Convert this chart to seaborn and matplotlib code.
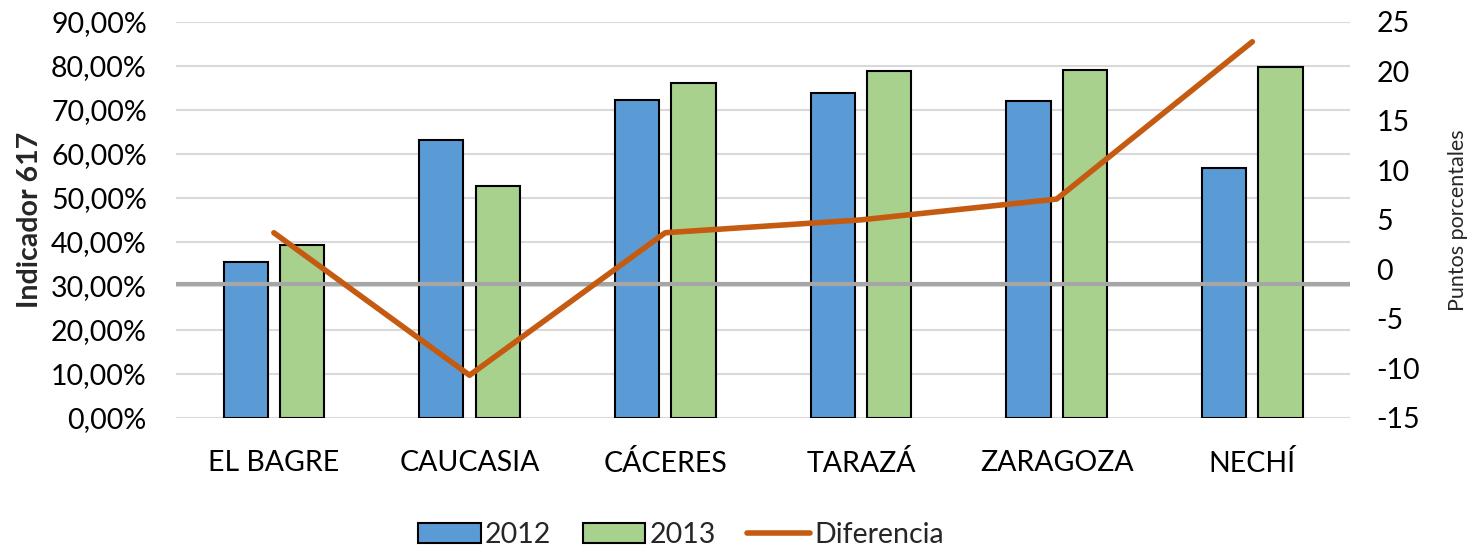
import matplotlib
matplotlib.use("Agg")
import matplotlib.pyplot as plt
import seaborn as sns
import pandas as pd
import numpy as np
from matplotlib.ticker import FuncFormatter
from matplotlib.patches import Patch
from matplotlib.lines import Line2D

# data
municipios = ["EL BAGRE", "CAUCASIA", "CÁCERES", "TARAZÁ", "ZARAGOZA", "NECHÍ"]
valores_2012 = [35.5, 63.2, 72.3, 73.9, 72.0, 56.7]
valores_2013 = [39.2, 52.6, 76.1, 78.9, 79.1, 79.8]
diferencia = [3.7, -10.7, 3.7, 5.0, 7.1, 23.0]

COLOR_2012 = "#5b9bd5"
COLOR_2013 = "#a9d18e"
COLOR_DIF = "#c55a11"
FONT = ["Lato", "DejaVu Sans"]
FS = 20.5

sns.set_theme(style="white")
plt.rcParams["font.family"] = FONT
plt.rcParams["axes.unicode_minus"] = False

df = pd.DataFrame({
    "municipio": municipios * 2,
    "valor": valores_2012 + valores_2013,
    "anio": ["2012"] * len(municipios) + ["2013"] * len(municipios),
})

fig, ax = plt.subplots(figsize=(14.74, 5.49), dpi=100)
plt.subplots_adjust(left=0.1194, right=0.916, top=0.96, bottom=0.239)

sns.barplot(
    data=df, x="municipio", y="valor", hue="anio", order=municipios,
    palette={"2012": COLOR_2012, "2013": COLOR_2013}, saturation=1,
    width=0.576, gap=0.215, edgecolor="black", linewidth=1.5,
    legend=False, ax=ax, zorder=3,
)
ax.set_ylim(0, 90)
ax.set_xlim(-0.5, len(municipios) - 0.5)
ax.set_yticks(np.arange(0, 91, 10))
ax.yaxis.set_major_formatter(FuncFormatter(lambda v, p: f"{v:.2f}%".replace(".", ",")))
ax.grid(axis="y", color="#d9d9d9", linewidth=1.5, zorder=0)
ax.set_axisbelow(True)
for s in ax.spines.values():
    s.set_visible(False)
ax.tick_params(axis="both", length=0, labelsize=FS, colors="black")
ax.tick_params(axis="y", pad=21)
ax.tick_params(axis="x", pad=23)
ax.set_xlabel("")
ax.set_ylabel("Indicador 617", fontsize=FS, fontweight="bold", labelpad=6)

ax2 = ax.twinx()
ax2.set_ylim(-15, 25)
ax2.set_yticks(np.arange(-15, 26, 5))
ax2.axhline(-1.5, color="#a6a6a6", linewidth=3, zorder=1)
sns.lineplot(x=np.arange(len(municipios)), y=diferencia, color=COLOR_DIF,
             linewidth=4, ax=ax2, zorder=4, solid_capstyle="round")
for s in ax2.spines.values():
    s.set_visible(False)
ax2.tick_params(axis="y", length=0, labelsize=FS, pad=19, colors="black")
ax2.set_ylabel("Puntos porcentales", fontsize=15.5, labelpad=20)
ax2.grid(False)

handles = [
    Patch(facecolor=COLOR_2012, edgecolor="black", linewidth=1.5, label="2012"),
    Patch(facecolor=COLOR_2013, edgecolor="black", linewidth=1.5, label="2013"),
    Line2D([0], [0], color=COLOR_DIF, linewidth=4, label="Diferencia"),
]
fig.legend(handles=handles, loc="lower center", ncol=3, frameon=False,
           fontsize=FS, bbox_to_anchor=(0.462, -0.045), handlelength=2.2,
           handletextpad=0.15, columnspacing=1.1)

fig.savefig("out.png", dpi=100)
